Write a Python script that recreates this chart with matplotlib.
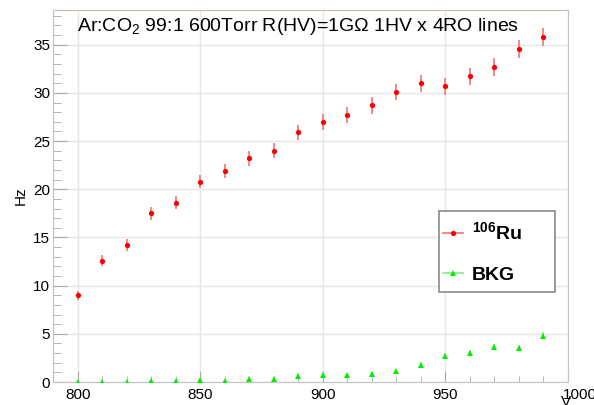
import matplotlib
matplotlib.use("Agg")
import matplotlib.pyplot as plt
from matplotlib.ticker import MultipleLocator
from matplotlib.lines import Line2D
from matplotlib.patches import Rectangle
from matplotlib.transforms import ScaledTranslation

plt.rcParams['font.family'] = ['Liberation Sans', 'DejaVu Sans']
plt.rcParams['mathtext.fontset'] = 'custom'
plt.rcParams['mathtext.rm'] = 'Liberation Sans'
plt.rcParams['mathtext.bf'] = 'Liberation Sans:bold'

# HV settings (V)
volts = [800, 810, 820, 830, 840, 850, 860, 870, 880, 890,
         900, 910, 920, 930, 940, 950, 960, 970, 980, 990]

# 106Ru source rate (Hz) and errors
ru_rate = [9.0, 12.6, 14.2, 17.5, 18.6, 20.8, 21.9, 23.2, 24.0, 25.9,
           27.0, 27.7, 28.7, 30.1, 31.0, 30.7, 31.7, 32.7, 34.6, 35.8]
ru_err = [0.48, 0.56, 0.60, 0.66, 0.68, 0.72, 0.74, 0.76, 0.78, 0.80,
          0.82, 0.83, 0.85, 0.87, 0.88, 0.88, 0.89, 0.91, 0.93, 0.95]

# background rate (Hz) and errors
bkg_rate = [0.03, 0.03, 0.03, 0.14, 0.14, 0.2, 0.14, 0.31, 0.31, 0.65,
            0.72, 0.69, 0.86, 1.15, 1.75, 2.7, 3.0, 3.6, 3.5, 4.8]
bkg_err = [0.08, 0.08, 0.08, 0.1, 0.1, 0.12, 0.1, 0.14, 0.14, 0.18,
           0.2, 0.2, 0.22, 0.24, 0.28, 0.3, 0.3, 0.32, 0.32, 0.36]

ru_col, ru_ecol = '#ff0000', '#f08080'
bkg_col, bkg_ecol = '#00ee00', '#8ef08e'

fig = plt.figure(figsize=(5.94, 4.05), dpi=100)
ax = fig.add_axes([53/594, 1 - 382/405, (568 - 53)/594, (382 - 10)/405])

ax.errorbar(volts, ru_rate, yerr=ru_err, fmt='o', color=ru_col, ms=3.8, mew=0,
            ecolor=ru_ecol, elinewidth=1.3, capsize=0, zorder=3)
ax.errorbar(volts, bkg_rate, yerr=bkg_err, fmt='^', color=bkg_col, ms=4, mew=0,
            ecolor=bkg_ecol, elinewidth=1.3, capsize=0, zorder=3)

ax.set_xlim(789.8, 1000)
ax.set_ylim(0, 38.6)
ax.set_xticks([800, 850, 900, 950, 1000])
ax.xaxis.set_minor_locator(MultipleLocator(10))
ax.yaxis.set_major_locator(MultipleLocator(5))
ax.yaxis.set_minor_locator(MultipleLocator(1))
ax.tick_params(which='both', direction='in', top=False, right=False,
               colors='#aaaaaa', labelcolor='black', labelsize=11)
ax.tick_params(axis='x', which='major', length=8, pad=4)
ax.tick_params(axis='x', which='minor', length=4)
ax.tick_params(axis='y', which='major', length=10, pad=2)
ax.tick_params(axis='y', which='minor', length=5.5)
ax.grid(True, which='major', color='#e6e6e6', lw=1)
ax.set_axisbelow(True)
for s in ['left', 'top']:
    ax.spines[s].set_color('#deb4b4')
for s in ['right', 'bottom']:
    ax.spines[s].set_color('#c4c4c4')

# ROOT draws the last label pushed past the frame edge
lab = ax.get_xticklabels()[-1]
lab.set_transform(lab.get_transform() + ScaledTranslation(0.12, 0, fig.dpi_scale_trans))

ax.text((77 - 53)/515, 1 - (31 - 10)/372,
        'Ar:CO$_2$ 99:1 600Torr R(HV)=1G\u03a9 1HV x 4RO lines',
        transform=ax.transAxes, ha='left', va='baseline', fontsize=14)

ax.set_ylabel('Hz', fontsize=11)
ax.yaxis.set_label_coords(-0.05, 0.5)
ax.set_xlabel('V', fontsize=11)
ax.xaxis.set_label_coords((566 - 53)/515, -0.036)

# legend box drawn by hand, entries via legend without frame
ax.add_patch(Rectangle(((439 - 53)/515, 1 - (292 - 10)/372), (555 - 439)/515,
                       (292 - 211)/372, transform=ax.transAxes, fc='white',
                       ec='#8a8a8a', lw=1.2, zorder=4))
handles = [Line2D([], [], color=ru_ecol, lw=1.3, marker='o', ms=3.8, mew=0,
                  mfc=ru_col),
           Line2D([], [], color=bkg_ecol, lw=1.3, marker='^', ms=4, mew=0,
                  mfc=bkg_col)]
leg = ax.legend(handles, ['$^{\\mathbf{106}}$Ru', 'BKG'], loc='upper left',
                bbox_to_anchor=((443 - 53)/515, 1 - (221 - 10)/372),
                borderaxespad=0, borderpad=0, frameon=False,
                prop={'weight': 'bold', 'size': 14}, labelspacing=1.15,
                handlelength=1.05, handletextpad=0.45)
leg.set_zorder(5)

fig.savefig('out.png', dpi=100)
